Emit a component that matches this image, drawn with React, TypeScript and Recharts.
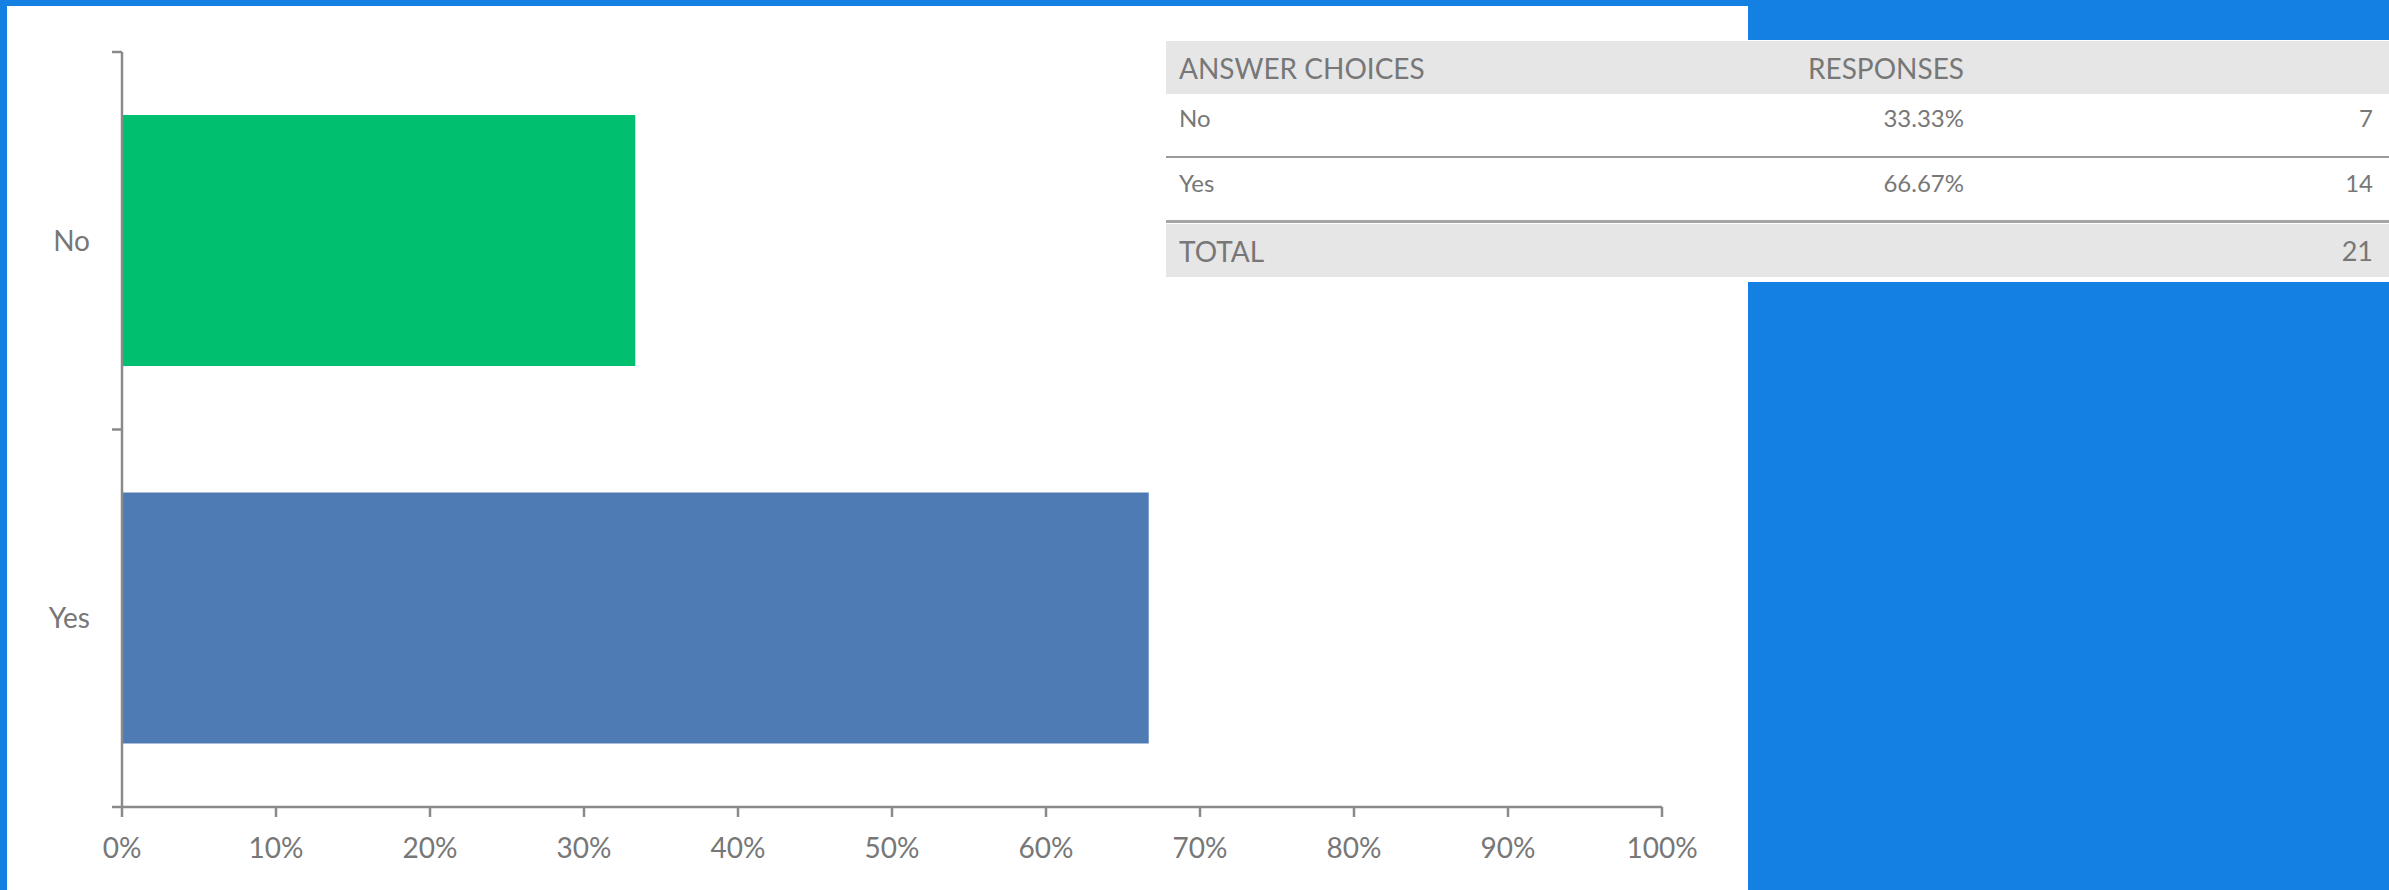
import { BarChart, Bar, XAxis, YAxis, Cell } from 'recharts';

const answers = ['No', 'Yes'];
const percents = [33.33, 66.67];
const counts = [7, 14];
const xTicks = [0, 10, 20, 30, 40, 50, 60, 70, 80, 90, 100];

const barColors: Record<string, string> = { No: '#00bf6f', Yes: '#4e7bb4' };

const FONT = 'Lato, "Open Sans", sans-serif';
const TEXT = '#777777';
const AXIS = '#8a8a8a';
const TICK_SIZE = 10;
const TICK_GAP = 22;

const data = answers.map((answer, i) => ({ answer, percent: percents[i] }));
const total = counts.reduce((a, b) => a + b, 0);

// y ticks sit on the band edges, labels in the middle
function CategoryTick(props: any) {
  const { x, y, payload, index, visibleTicksCount } = props;
  const half = payload?.offset ?? 0;
  const axisX = x + TICK_SIZE + TICK_GAP;
  return (
    <g>
      <line x1={axisX - TICK_SIZE} x2={axisX} y1={y - half} y2={y - half} stroke={AXIS} strokeWidth={2.5} />
      {index === visibleTicksCount - 1 && (
        <line x1={axisX - TICK_SIZE} x2={axisX} y1={y + half} y2={y + half} stroke={AXIS} strokeWidth={2.5} />
      )}
      <text x={x} y={y} dy="0.355em" textAnchor="end" fill={TEXT} fontSize={28} fontFamily={FONT}>
        {payload.value}
      </text>
    </g>
  );
}

const cell = (extra: any = {}) => ({
  flex: 'none',
  color: TEXT,
  fontFamily: FONT,
  lineHeight: 1,
  ...extra,
});

export default function App() {
  return (
    <div style={{ position: 'absolute', left: 0, top: 0, width: 2389, height: 890, background: '#1380e2', overflow: 'hidden' }}>
      <div style={{ position: 'absolute', left: 7, top: 6, width: 1741, height: 884, background: '#ffffff' }} />

      <div style={{ position: 'absolute', left: 0, top: 0 }}>
        <BarChart
          width={1748}
          height={890}
          data={data}
          layout="vertical"
          margin={{ top: 52, right: 86, bottom: 23, left: 22 }}
        >
          <XAxis
            type="number"
            domain={[0, 100]}
            ticks={xTicks}
            tickFormatter={(v) => `${v}%`}
            height={60}
            tickSize={TICK_SIZE}
            tickMargin={21}
            stroke={AXIS}
            strokeWidth={2.5}
            tick={{ fill: TEXT, fontSize: 28, fontFamily: FONT }}
            interval={0}
          />
          <YAxis
            type="category"
            dataKey="answer"
            width={100}
            tickSize={TICK_SIZE}
            tickMargin={TICK_GAP}
            tickLine={false}
            stroke={AXIS}
            strokeWidth={2.5}
            tick={<CategoryTick />}
            interval={0}
          />
          <Bar dataKey="percent" barSize={251} isAnimationActive={false}>
            {data.map((d) => (
              <Cell key={d.answer} fill={barColors[d.answer]} />
            ))}
          </Bar>
        </BarChart>
      </div>

      {/* response table */}
      <div style={{ position: 'absolute', left: 1166, top: 40, width: 1223, height: 242, background: '#ffffff' }}>
        <div style={{ position: 'absolute', left: 0, top: 1, width: 1223, height: 53, background: '#e6e6e6', display: 'flex', alignItems: 'center' }}>
          <div style={cell({ width: 798, paddingLeft: 13, boxSizing: 'border-box', fontSize: 28, display: 'flex', justifyContent: 'space-between' })}>
            <span>ANSWER CHOICES</span>
            <span>RESPONSES</span>
          </div>
        </div>
        {answers.map((a, i) => (
          <div
            key={a}
            style={{
              position: 'absolute',
              left: 0,
              top: 54 + i * 65,
              width: 1223,
              height: 64,
              display: 'flex',
              alignItems: 'flex-start',
              borderBottom: i === 0 ? '2px solid #9a9a9a' : '3px solid #a5a5a5',
              boxSizing: 'border-box',
            }}
          >
            <div style={cell({ width: 798, paddingLeft: 13, paddingTop: 12, boxSizing: 'border-box', fontSize: 24, display: 'flex', justifyContent: 'space-between' })}>
              <span>{a}</span>
              <span>{percents[i].toFixed(2)}%</span>
            </div>
            <div style={cell({ width: 409, paddingTop: 12, fontSize: 24, textAlign: 'right' })}>{counts[i]}</div>
          </div>
        ))}
        <div style={{ position: 'absolute', left: 0, top: 184, width: 1223, height: 53, background: '#e6e6e6', display: 'flex', alignItems: 'center' }}>
          <div style={cell({ width: 798, paddingLeft: 13, boxSizing: 'border-box', fontSize: 28 })}>TOTAL</div>
          <div style={cell({ width: 409, fontSize: 27, textAlign: 'right' })}>{total}</div>
        </div>
      </div>
    </div>
  );
}
